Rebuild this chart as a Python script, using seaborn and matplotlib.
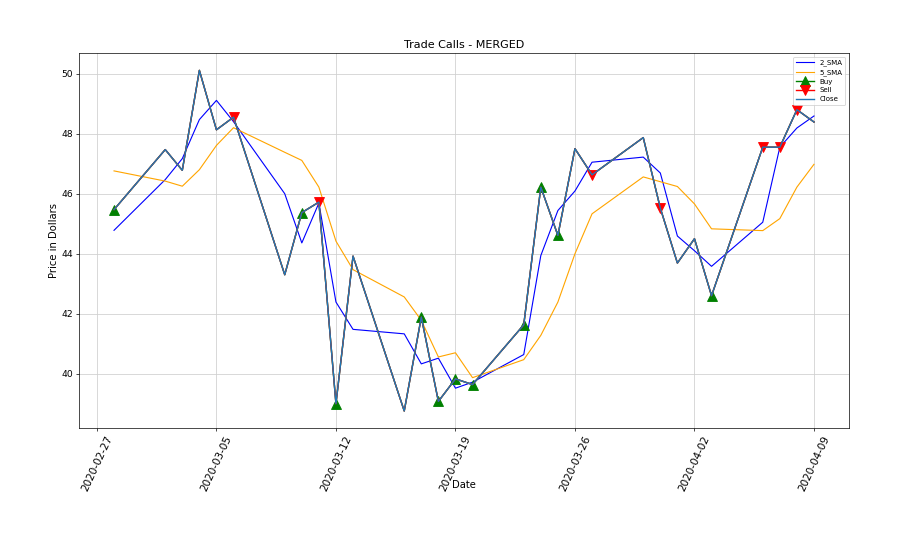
import matplotlib
matplotlib.use("Agg")
import matplotlib.pyplot as plt
import matplotlib.dates as mdates
import pandas as pd
import seaborn as sns

# ---- data ----
dates = ["2020-02-28", "2020-03-02", "2020-03-03", "2020-03-04", "2020-03-05",
         "2020-03-06", "2020-03-09", "2020-03-10", "2020-03-11", "2020-03-12",
         "2020-03-13", "2020-03-16", "2020-03-17", "2020-03-18", "2020-03-19",
         "2020-03-20", "2020-03-23", "2020-03-24", "2020-03-25", "2020-03-26",
         "2020-03-27", "2020-03-30", "2020-03-31", "2020-04-01", "2020-04-02",
         "2020-04-03", "2020-04-06", "2020-04-07", "2020-04-08", "2020-04-09"]

close = [45.47, 47.47, 46.78, 50.11, 48.13, 48.55, 43.30, 45.37, 45.72, 39.00,
         43.92, 38.76, 41.89, 39.08, 39.83, 39.64, 41.63, 46.22, 44.61, 47.50,
         46.63, 47.87, 45.52, 43.69, 44.50, 42.60, 47.55, 47.55, 48.80, 48.39]

sma_2 = [44.78, 46.47, 47.17, 48.47, 49.11, 48.40, 46.00, 44.36, 45.69, 42.39,
         41.48, 41.33, 40.33, 40.52, 39.52, 39.72, 40.64, 43.94, 45.44, 46.09,
         47.05, 47.22, 46.69, 44.59, 44.10, 43.58, 45.05, 47.55, 48.19, 48.59]

sma_5 = [46.76, 46.42, 46.25, 46.80, 47.61, 48.20, 47.38, 47.11, 46.22, 44.42,
         43.47, 42.56, 41.78, 40.56, 40.70, 39.87, 40.47, 41.28, 42.39, 44.00,
         45.33, 46.56, 46.40, 46.24, 45.66, 44.83, 44.77, 45.17, 46.22, 46.98]

buy_dates = ["2020-02-28", "2020-03-10", "2020-03-12", "2020-03-17", "2020-03-18",
             "2020-03-19", "2020-03-20", "2020-03-23", "2020-03-24", "2020-03-25",
             "2020-04-03"]
sell_dates = ["2020-03-06", "2020-03-11", "2020-03-27", "2020-03-31",
              "2020-04-06", "2020-04-07", "2020-04-08"]

tick_dates = ["2020-02-27", "2020-03-05", "2020-03-12", "2020-03-19",
              "2020-03-26", "2020-04-02", "2020-04-09"]

title = "Trade Calls - MERGED"
x_label = "Date"
y_label = "Price in Dollars"

# ---- build table ----
df = pd.DataFrame({"Date": pd.to_datetime(dates), "Close": close,
                   "2_SMA": sma_2, "5_SMA": sma_5})
buy_idx = [dates.index(d) for d in buy_dates]
sell_idx = [dates.index(d) for d in sell_dates]

plt.style.use("default")
fig = plt.figure(figsize=(14.4, 8.736), dpi=62.5)
ax = fig.add_axes([0.0878, 0.2161, 0.8555, 0.6862])

sns.lineplot(data=df, x="Date", y="2_SMA", color="blue", lw=1.3,
             label="2_SMA", ax=ax)
sns.lineplot(data=df, x="Date", y="5_SMA", color="orange", lw=1.3,
             label="5_SMA", ax=ax)
sns.lineplot(data=df, x="Date", y="Close", color="green", lw=1.6,
             marker="^", markevery=buy_idx, markersize=12,
             markeredgecolor="green", markeredgewidth=1.0,
             label="Buy", ax=ax)
sns.lineplot(data=df, x="Date", y="Close", color="red", lw=1.6,
             marker="v", markevery=sell_idx, markersize=12,
             markeredgecolor="red", markeredgewidth=1.0,
             label="Sell", ax=ax)
sns.lineplot(data=df, x="Date", y="Close", color="#1f77b4", lw=1.6,
             label="Close", ax=ax)

ax.set_xticks(pd.to_datetime(tick_dates))
ax.xaxis.set_major_formatter(mdates.DateFormatter("%Y-%m-%d"))
plt.setp(ax.get_xticklabels(), rotation=65, ha="center", fontsize=12)
plt.setp(ax.get_yticklabels(), fontsize=10.5)

ax.grid(True, color="#cfcfcf", lw=0.9)
ax.set_axisbelow(True)
ax.set_title(title, fontsize=12.8)
ax.set_xlabel(x_label, fontsize=11.5)
ax.set_ylabel(y_label, fontsize=11.5)
ax.xaxis.set_label_coords(0.5, -0.138)
ax.yaxis.set_label_coords(-0.026, 0.5)
ax.legend(loc="upper right", fontsize=8, handlelength=2.6,
          labelspacing=0.4, borderpad=0.4)

fig.savefig("out.png", dpi=62.5, facecolor="white")
